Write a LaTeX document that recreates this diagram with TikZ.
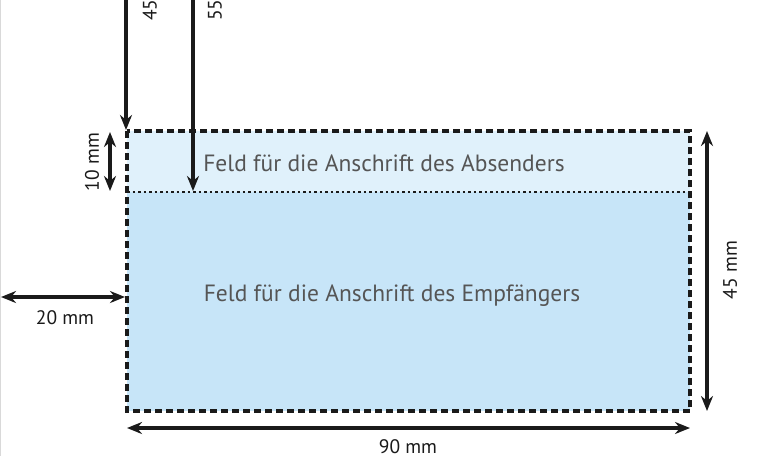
\documentclass[tikz,border=0pt]{standalone}
\usepackage{fontspec}
\setmainfont{PT Sans}
\usetikzlibrary{arrows.meta}
\definecolor{topc}{HTML}{E0F1FB}
\definecolor{botc}{HTML}{C7E5F8}
\definecolor{txt}{HTML}{555555}
\definecolor{ink}{HTML}{1A1A1A}
\tikzset{
  dim/.style={draw=ink,line width=3.4pt,-{Stealth[length=15pt,width=12pt]}},
  dimboth/.style={draw=ink,line width=3.4pt,{Stealth[length=15pt,width=12pt]}-{Stealth[length=15pt,width=12pt]}},
  lbl/.style={font=\fontsize{19.5}{22}\selectfont,text=ink,inner sep=0pt},
  field/.style={font=\fontsize{23.5}{26}\selectfont,text=txt}
}
\begin{document}
\begin{tikzpicture}[x=1pt,y=-1pt]
\useasboundingbox (0,0) rectangle (760,456);
\clip (0,0) rectangle (760,456);
\fill[white] (0,0) rectangle (760,456);
\draw[gray!30,line width=0.8pt] (0.5,0) -- (0.5,456);
\fill[botc] (127,131) rectangle (690,411);
\fill[topc] (127,131) rectangle (690,192);
\draw[ink,line width=2.6pt,dash pattern=on 2.5pt off 3pt] (127,192) -- (690,192);
\draw[ink,line width=3.4pt,dash pattern=on 7pt off 4pt] (127,131) rectangle (690,411);
\node[field] (abs) at (384,163) {Feld für die Anschrift des Absenders};
\node[field] (emp) at (392,296) {Feld für die Anschrift des Empfängers};
\coordinate (t45) at (126,-5);
\coordinate (e45) at (126,130);
\draw[dim] (t45) -- (e45);
\node[lbl,rotate=90,anchor=south west] (l45) at (157,21) {45 mm};
\coordinate (t55) at (193,-5);
\coordinate (e55) at (193,191);
\draw[dim] (t55) -- (e55);
\node[lbl,rotate=90,anchor=south west] (l55) at (222,21) {55 mm};
\coordinate (a10) at (110,132);
\coordinate (b10) at (110,191);
\draw[dimboth] (a10) -- (b10);
\node[lbl,rotate=90] (l10) at (92,162) {10 mm};
\coordinate (a20) at (1,297);
\coordinate (b20) at (125,297);
\draw[dimboth] (a20) -- (b20);
\node[lbl] (l20) at (65,318) {20 mm};
\coordinate (a45) at (707,131);
\coordinate (b45) at (707,411);
\draw[dimboth] (a45) -- (b45);
\node[lbl,rotate=90] (r45) at (730,270) {45 mm};
\coordinate (a90) at (127,428);
\coordinate (b90) at (690,428);
\draw[dimboth] (a90) -- (b90);
\node[lbl] (l90) at (408,447) {90 mm};
\end{tikzpicture}
\end{document}
